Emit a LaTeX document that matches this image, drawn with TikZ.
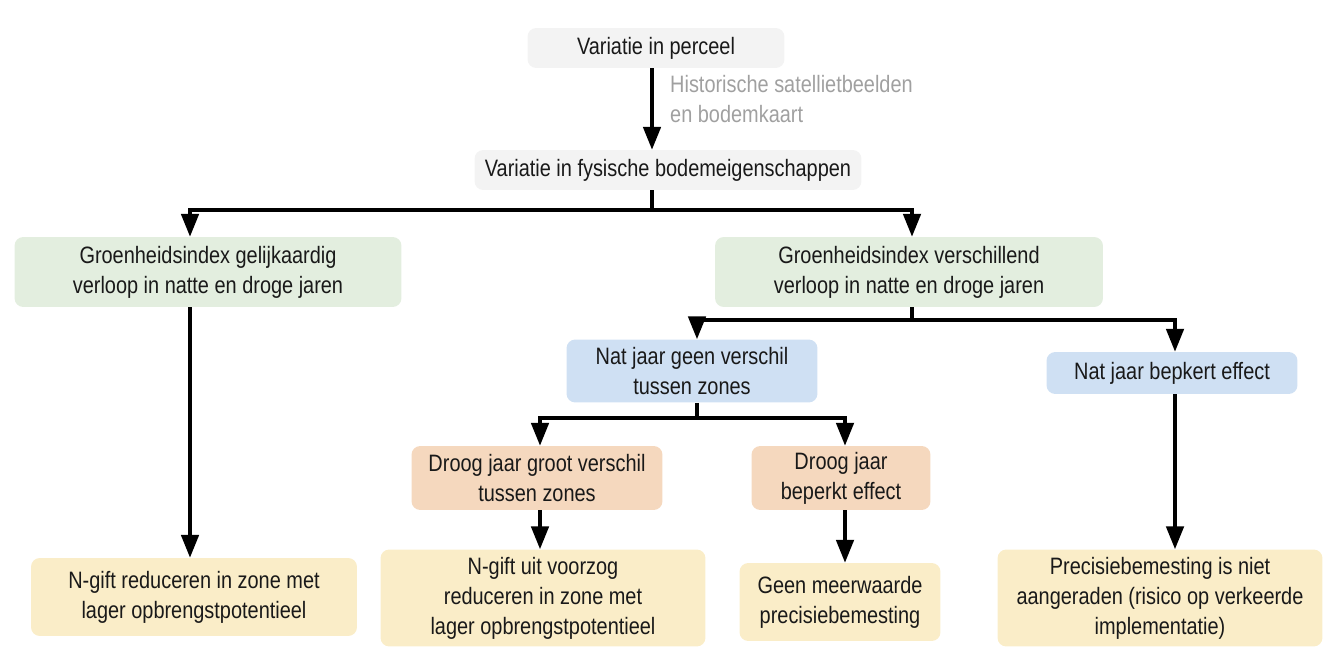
\documentclass[tikz,border=0pt]{standalone}
\usepackage{fontspec}
\setmainfont{Liberation Sans}[FakeStretch=0.84]
\usetikzlibrary{arrows.meta}

\definecolor{boxgray}{RGB}{243,243,243}
\definecolor{boxgreen}{RGB}{227,238,223}
\definecolor{boxblue}{RGB}{207,224,243}
\definecolor{boxorange}{RGB}{245,216,190}
\definecolor{boxyellow}{RGB}{250,237,200}
\definecolor{labelgray}{RGB}{160,160,160}

\tikzset{
  box/.style={rounded corners=5pt, align=center, inner sep=2pt,
    font=\fontsize{13.5}{17}\selectfont, text=black!90},
  ln/.style={line width=1.8pt},
  arr/.style={ln, -{Triangle[length=13pt,width=10pt]}},
}

\begin{document}
\begin{tikzpicture}[x=0.02cm, y=-0.02cm]
  \useasboundingbox (0,0) rectangle (1339,669);

  \node[box, fill=boxgray, minimum width=5.14cm, minimum height=0.8cm] (perceel) at (656,48) {Variatie in perceel};
  \node[box, fill=boxgray, minimum width=7.74cm, minimum height=0.8cm] (fys) at (668,170) {Variatie in fysische bodemeigenschappen};
  \node[anchor=west, align=left, text=labelgray, font=\fontsize{13.5}{17}\selectfont] (bron) at (664,99) {Historische satellietbeelden\\en bodemkaart};

  \node[box, fill=boxgreen, minimum width=7.74cm, minimum height=1.4cm] (gl) at (208,272) {Groenheidsindex gelijkaardig\\verloop in natte en droge jaren};
  \node[box, fill=boxgreen, minimum width=7.76cm, minimum height=1.4cm] (gr) at (909,272) {Groenheidsindex verschillend\\verloop in natte en droge jaren};

  \node[box, fill=boxblue, minimum width=5.02cm, minimum height=1.26cm] (bl) at (692,371) {Nat jaar geen verschil\\tussen zones};
  \node[box, fill=boxblue, minimum width=5.02cm, minimum height=0.84cm] (br) at (1172,373) {Nat jaar bepkert effect};

  \node[box, fill=boxorange, minimum width=5.02cm, minimum height=1.28cm] (ol) at (537,478) {Droog jaar groot verschil\\tussen zones};
  \node[box, fill=boxorange, minimum width=3.58cm, minimum height=1.28cm] (or) at (841,478) {Droog jaar\\beperkt effect};

  \node[box, fill=boxyellow, minimum width=6.52cm, minimum height=1.56cm] (y1) at (194,597) {N-gift reduceren in zone met\\lager opbrengstpotentieel};
  \node[box, fill=boxyellow, minimum width=6.5cm, minimum height=1.94cm] (y2) at (543,598) {N-gift uit voorzog\\reduceren in zone met\\lager opbrengstpotentieel};
  \node[box, fill=boxyellow, minimum width=4.02cm, minimum height=1.56cm] (y3) at (840,602) {Geen meerwaarde\\precisiebemesting};
  \node[box, fill=boxyellow, minimum width=6.5cm, minimum height=1.94cm] (y4) at (1160,598) {Precisiebemesting is niet\\aangeraden (risico op verkeerde\\implementatie)};

  \coordinate (c0) at (652,0);
  \coordinate (cL) at (190,0);
  \coordinate (cR) at (912,0);
  \coordinate (cB) at (697,0);
  \coordinate (cN) at (1175,0);
  \coordinate (cO) at (540,0);
  \coordinate (cP) at (845,0);
  \coordinate (k1) at (652,210);
  \coordinate (k2) at (912,320);
  \coordinate (k3) at (697,418);

  \draw[arr] (perceel.south -| c0) -- (fys.north -| c0);
  \draw[ln] (fys.south -| c0) -- (k1);
  \draw[arr] (k1) -| (gl.north -| cL);
  \draw[arr] (k1) -| (gr.north -| cR);
  \draw[ln] (gr.south -| cR) -- (k2);
  \draw[arr] (k2) -| (bl.north -| cB);
  \draw[arr] (k2) -| (br.north -| cN);
  \draw[ln] (bl.south -| cB) -- (k3);
  \draw[arr] (k3) -| (ol.north -| cO);
  \draw[arr] (k3) -| (or.north -| cP);
  \draw[arr] (gl.south -| cL) -- (y1.north -| cL);
  \draw[arr] (ol.south -| cO) -- (y2.north -| cO);
  \draw[arr] (or.south -| cP) -- (y3.north -| cP);
  \draw[arr] (br.south -| cN) -- (y4.north -| cN);
\end{tikzpicture}
\end{document}
